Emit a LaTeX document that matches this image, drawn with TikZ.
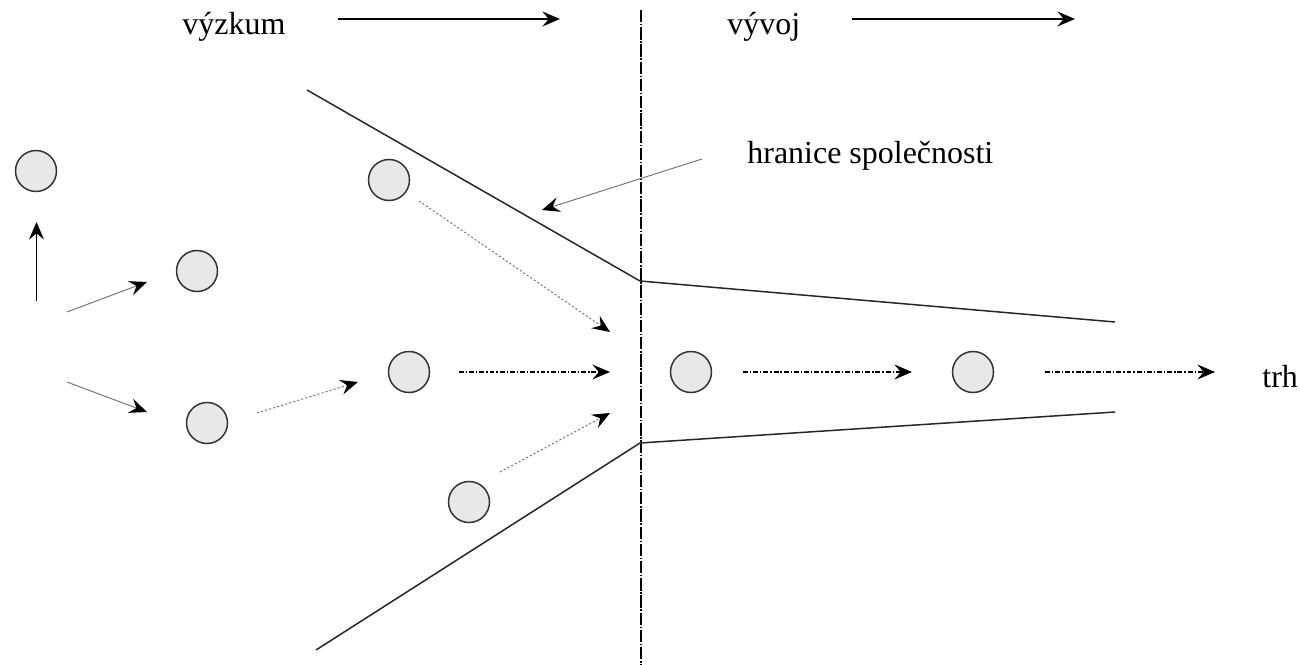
\documentclass[tikz,border=0pt]{standalone}
\usepackage{fontspec}
\setmainfont{Liberation Serif}
\usetikzlibrary{arrows.meta}
\begin{document}
\begin{tikzpicture}[x=0.02cm,y=-0.02cm,
  every node/.style={font=\fontsize{18.2}{20}\selectfont},
  ball/.style={circle,draw=black!80,line width=0.85pt,fill=black!9,minimum size=41*0.02cm,inner sep=0pt},
  lbl/.style={anchor=base west,inner sep=0pt},
  tip/.style={-{Stealth[length=10pt,width=8.5pt,inset=3.6pt]}},
  solidarr/.style={tip,line width=1.1pt,black},
  thinarr/.style={line width=0.55pt,draw=black!55,-{Stealth[length=10pt,width=8.5pt,inset=3.6pt,fill=black,color=black]}},
  dotarr/.style={thinarr,dash pattern=on 1.2pt off 1.2pt},
  dasharr/.style={tip,line width=0.65pt,black,dash pattern=on 2.8pt off 1.1pt on 0.8pt off 1.1pt},
  boundary/.style={line width=0.85pt,black!85},
  divider/.style={line width=0.7pt,black,dash pattern=on 7pt off 1pt on 0.8pt off 1pt}]
\useasboundingbox (0,0) rectangle (1300,665);

% labels
\node[lbl] (vyzkum) at (182,35) {výzkum};
\node[lbl] (vyvoj) at (727,35) {vývoj};
\node[lbl] (hranice) at (747,164) {hranice společnosti};
\node[lbl] (trh) at (1262,387) {trh};

% circles
\node[ball] (c1) at (36,171) {};
\node[ball] (c2) at (197,271) {};
\node[ball] (c3) at (389,180) {};
\node[ball] (c4) at (207,423) {};
\node[ball] (c5) at (409,372) {};
\node[ball] (c6) at (469,502) {};
\node[ball] (c7) at (691,372) {};
\node[ball] (c8) at (973,372) {};

% free ends
\coordinate (t1a) at (338,19);  \coordinate (t1b) at (560,19);
\coordinate (t2a) at (852,19);  \coordinate (t2b) at (1075,19);
\coordinate (vtop) at (641,10); \coordinate (vbot) at (641,665);
\coordinate (ua) at (36.5,301); \coordinate (ub) at (36.5,222);
\coordinate (a1a) at (67,312);  \coordinate (a1b) at (147,282);
\coordinate (a2a) at (67,382);  \coordinate (a2b) at (147,412);
\coordinate (d1a) at (257,413); \coordinate (d1b) at (358,382);
\coordinate (d2a) at (419,201); \coordinate (d2b) at (610,332);
\coordinate (d3a) at (500,472); \coordinate (d3b) at (610,413);
\coordinate (e1a) at (459,372); \coordinate (e1b) at (610,372);
\coordinate (e2a) at (743,372); \coordinate (e2b) at (912,372);
\coordinate (e3a) at (1045,372);\coordinate (e3b) at (1215,372);
\coordinate (ha) at (702,159);  \coordinate (hb) at (542,210);
\coordinate (u0) at (307,90);   \coordinate (u1) at (640,281); \coordinate (u2) at (1115,322);
\coordinate (l0) at (316,650);  \coordinate (l1) at (640,443); \coordinate (l2) at (1115,412);

% divider and boundaries
\draw[divider] (vtop) -- (vbot);
\draw[boundary] (u0) -- (u1) -- (u2);
\draw[boundary] (l0) -- (l1) -- (l2);

% arrows
\draw[solidarr] (t1a) -- (t1b);
\draw[solidarr] (t2a) -- (t2b);
\draw[solidarr] (ua) -- (ub);
\draw[thinarr] (a1a) -- (a1b);
\draw[thinarr] (a2a) -- (a2b);
\draw[thinarr] (ha) -- (hb);
\draw[dotarr] (d1a) -- (d1b);
\draw[dotarr] (d2a) -- (d2b);
\draw[dotarr] (d3a) -- (d3b);
\draw[dasharr] (e1a) -- (e1b);
\draw[dasharr] (e2a) -- (e2b);
\draw[dasharr] (e3a) -- (e3b);
\end{tikzpicture}
\end{document}
